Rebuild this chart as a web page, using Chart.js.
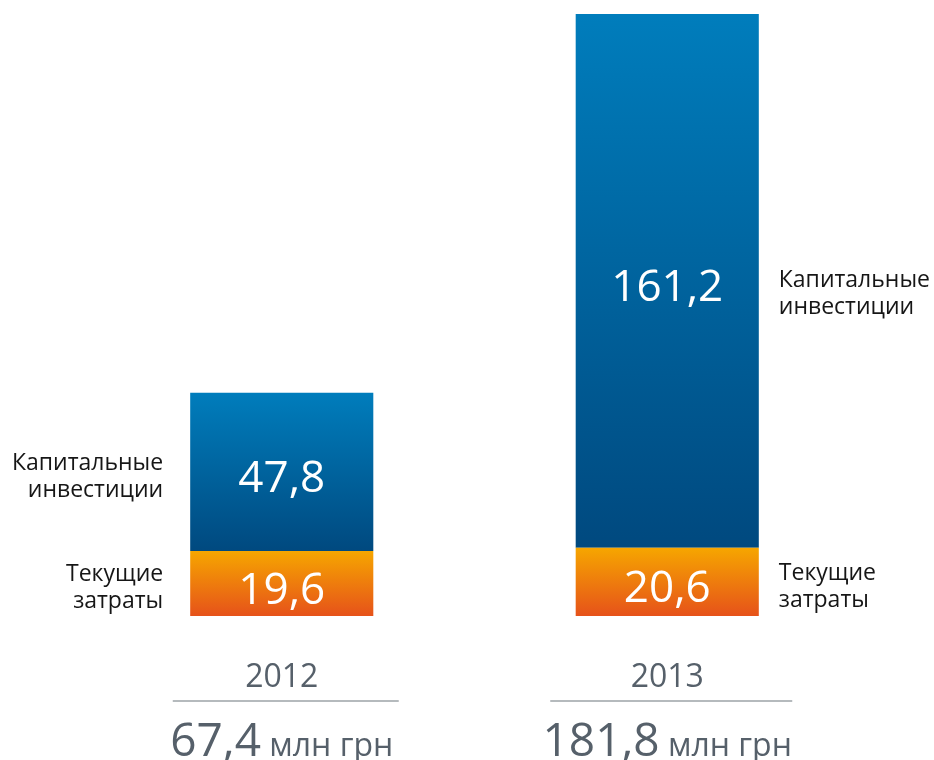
<!DOCTYPE html>
<html>
<head>
<meta charset="utf-8">
<script src="https://cdn.jsdelivr.net/npm/chart.js@4"></script>
<style>
  html, body { margin: 0; padding: 0; background: #ffffff; }
  #wrap { width: 934px; height: 760px; position: relative; }
</style>
</head>
<body>
<div id="wrap"><canvas id="c" width="934" height="760"></canvas></div>
<script>
// ---- data ----
const years = ['2012', '2013'];
const currentCosts = [19.6, 20.6];      // Текущие затраты
const capitalInvest = [47.8, 161.2];    // Капитальные инвестиции
const totals = [67.4, 181.8];
const seriesCurrent = ['Текущие', 'затраты'];
const seriesCapital = ['Капитальные', 'инвестиции'];
const unitLabel = 'млн грн';

const FONT = '"Open Sans", sans-serif';
const fmt = v => v.toFixed(1).replace('.', ',');

function segGradient(ctx, bottomVal, topVal, cTop, cBottom) {
  const chart = ctx.chart;
  if (!chart.chartArea) return cBottom;
  const y = chart.scales.y;
  const y0 = y.getPixelForValue(topVal);
  const y1 = y.getPixelForValue(bottomVal);
  const g = chart.ctx.createLinearGradient(0, y0, 0, y1);
  g.addColorStop(0, cTop);
  g.addColorStop(1, cBottom);
  return g;
}

// vertical nudges of the side labels (px): [capital, current] per bar
const sideNudge = [[-2, -3], [6, -2]];
// separator line extents relative to bar centre
const lineExt = [[-109, 117], [-117, 125]];

const labelsPlugin = {
  id: 'labelsPlugin',
  afterDatasetsDraw(chart) {
    const c = chart.ctx;
    const x = chart.scales.x, y = chart.scales.y;
    const meta0 = chart.getDatasetMeta(0), meta1 = chart.getDatasetMeta(1);
    c.save();
    years.forEach((yr, i) => {
      const b0 = meta0.data[i], b1 = meta1.data[i];
      const cx = x.getPixelForValue(i);
      const half = b0.width / 2;
      const yBase = y.getPixelForValue(0);
      const yMid0 = (yBase + b0.y) / 2;
      const yMid1 = (b0.y + b1.y) / 2;
      // values inside bars
      c.fillStyle = '#ffffff';
      c.font = '44px ' + FONT;
      c.textAlign = 'center';
      c.textBaseline = 'alphabetic';
      c.fillText(fmt(currentCosts[i]), cx, yMid0 + 20);
      c.fillText(fmt(capitalInvest[i]), cx, yMid1 + 20);
      // side labels
      c.fillStyle = '#161616';
      c.font = '23px ' + FONT;
      let lx;
      if (i === 0) { c.textAlign = 'right'; lx = cx - half - 27; }
      else { c.textAlign = 'left'; lx = cx + half + 20; }
      const lh = 27;
      seriesCapital.forEach((t, k) => c.fillText(t, lx, yMid1 + sideNudge[i][0] + k * lh));
      seriesCurrent.forEach((t, k) => c.fillText(t, lx, yMid0 + sideNudge[i][1] + k * lh));
      // year
      c.fillStyle = '#56606a';
      c.textAlign = 'center';
      c.font = '32px ' + FONT;
      c.fillText(yr, cx, 687);
      // separator line
      c.strokeStyle = '#6d767d';
      c.lineWidth = 1.2;
      c.beginPath();
      c.moveTo(cx + lineExt[i][0], 701);
      c.lineTo(cx + lineExt[i][1], 701);
      c.stroke();
      // total
      const tBig = fmt(totals[i]);
      const tSmall = ' ' + unitLabel;
      c.font = '46px ' + FONT;
      const w1 = c.measureText(tBig).width;
      c.font = '32px ' + FONT;
      const w2 = c.measureText(tSmall).width;
      const start = cx - (w1 + w2) / 2;
      c.textAlign = 'left';
      c.font = '46px ' + FONT;
      c.fillText(tBig, start, 756);
      c.font = '32px ' + FONT;
      c.fillText(tSmall, start + w1, 756);
    });
    c.restore();
  }
};

new Chart(document.getElementById('c'), {
  type: 'bar',
  data: {
    labels: years,
    datasets: [
      {
        label: seriesCurrent.join(' '),
        data: currentCosts,
        backgroundColor: ctx => segGradient(ctx, 0, currentCosts[ctx.dataIndex], '#f6a600', '#e6521a'),
        borderWidth: 0
      },
      {
        label: seriesCapital.join(' '),
        data: capitalInvest,
        backgroundColor: ctx => segGradient(ctx, currentCosts[ctx.dataIndex], currentCosts[ctx.dataIndex] + capitalInvest[ctx.dataIndex], '#007dbc', '#00497f'),
        borderWidth: 0
      }
    ]
  },
  options: {
    responsive: false,
    animation: false,
    devicePixelRatio: 1,
    layout: { padding: { left: 89, right: 74, top: 14, bottom: 144 } },
    plugins: { legend: { display: false }, tooltip: { enabled: false } },
    datasets: { bar: { categoryPercentage: 1, barPercentage: 0.475 } },
    scales: {
      x: { stacked: true, display: false },
      y: { stacked: true, display: false, min: 0, max: 181.8 }
    }
  },
  plugins: [labelsPlugin]
});
</script>
</body>
</html>
